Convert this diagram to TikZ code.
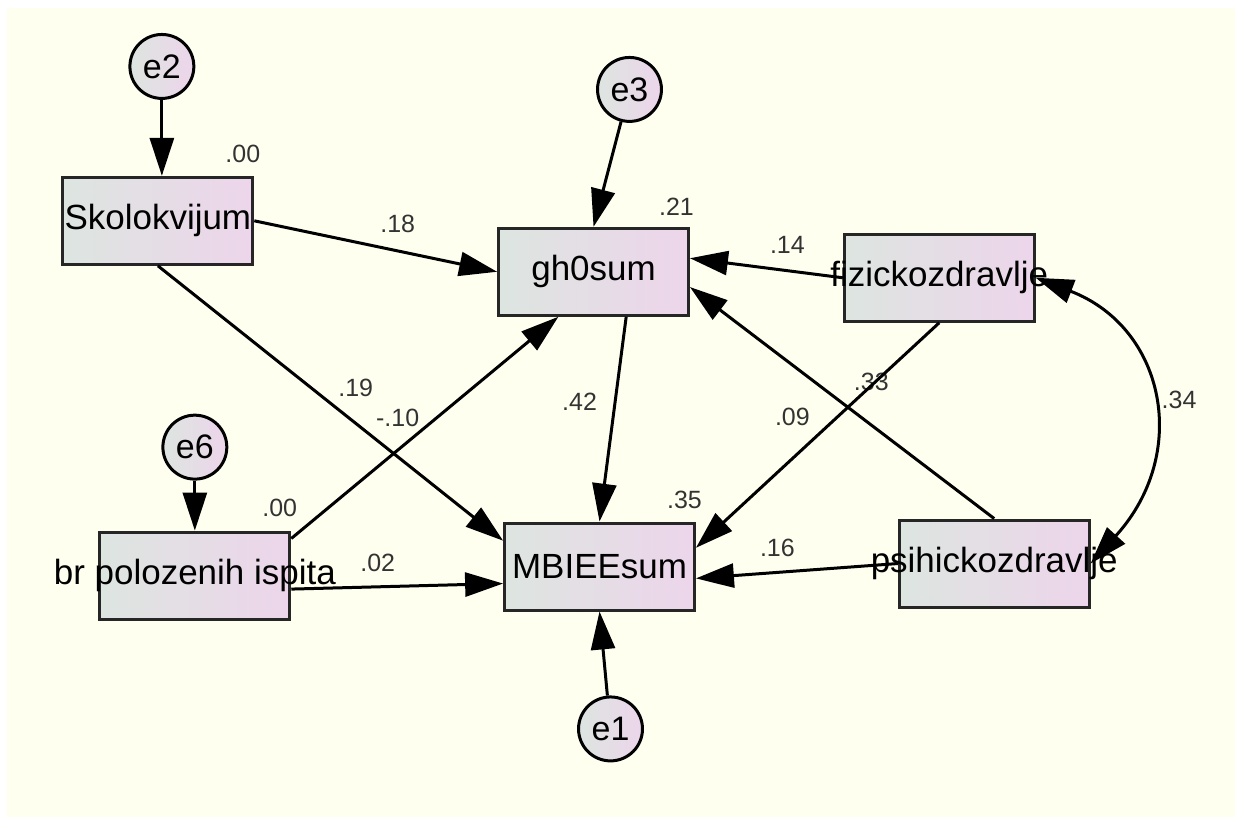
\documentclass[tikz,border=0pt]{standalone}
\usepackage{fontspec}
\setmainfont{Liberation Sans}
\usetikzlibrary{positioning}
\usetikzlibrary{arrows.meta}
\definecolor{paper}{RGB}{255,255,240}
\definecolor{shadeleft}{RGB}{221,229,224}
\definecolor{shaderight}{RGB}{237,213,235}

\begin{document}
\begin{tikzpicture}[
x=0.5pt, y=-0.5pt,
varnode/.style={rectangle, draw=black!85, line width=1.5pt, left color=shadeleft, right color=shaderight, minimum width=95pt, minimum height=43.5pt, inner sep=0pt, font=\fontsize{17.5}{20}\selectfont},
errnode/.style={circle, draw=black, line width=1.5pt, left color=shadeleft, right color=shaderight, minimum size=32pt, inner sep=0pt, font=\fontsize{17}{20}\selectfont},
coefnode/.style={inner sep=0pt, text=black!80, font=\fontsize{12.5}{14}\selectfont},
pathline/.style={line width=1.5pt, -{Triangle[length=19pt, width=12pt]}},
covline/.style={line width=1.5pt, {Triangle[length=19pt, width=12pt]}-{Triangle[length=19pt, width=12pt]}},
]

% Paper with a thin white margin
\fill[white] (0,0) rectangle (1235,817);
\fill[paper] (7,8) rectangle (1236,818);

% Observed variables
\node[varnode]   (skolokvijum)   at (158,221)   {\makebox[0pt]{Skolokvijum}};
\node[varnode]   (gh0sum)        at (594,272)   {\makebox[0pt]{gh0sum}};
\node[varnode]   (fizicko)       at (940,278)   {\makebox[0pt]{fizickozdravlje}};
\node[varnode]   (brispita)      at (195,576)   {\makebox[0pt]{br polozenih ispita}};
\node[varnode]   (mbieesum)      at (600,567)   {\makebox[0pt]{MBIEEsum}};
\node[varnode]   (psihicko)      at (995,564)   {\makebox[0pt]{psihickozdravlje}};

% Error terms
\node[errnode]   (e2)   [above=38pt of skolokvijum, xshift=2pt]   {e2};
\node[errnode]   (e3)   [above=52pt of gh0sum, xshift=18pt]       {e3};
\node[errnode]   (e6)   [above=25pt of brispita]                  {e6};
\node[errnode]   (e1)   [below=42pt of mbieesum, xshift=5.5pt]    {e1};

% Squared multiple correlations
\node[coefnode]  (r2skol)   at (243,154)   {.00};
\node[coefnode]  (r2gh)     at (677,207)   {.21};
\node[coefnode]  (r2br)     at (280,508)   {.00};
\node[coefnode]  (r2mbi)    at (685,500)   {.35};

% Path coefficients
\node[coefnode]  (c18)   at (398,224)    {.18};
\node[coefnode]  (c14)   at (788,245)    {.14};
\node[coefnode]  (c19)   at (356,388)    {.19};
\node[coefnode]  (c10)   at (398,418)    {-.10};
\node[coefnode]  (c42)   at (580,402)    {.42};
\node[coefnode]  (c33)   at (872,382)    {.33};
\node[coefnode]  (c09)   at (793,417)    {.09};
\node[coefnode]  (c34)   at (1180,400)   {.34};
\node[coefnode]  (c02)   at (378,563)    {.02};
\node[coefnode]  (c16)   at (778,548)    {.16};

\draw[pathline] (e2) -- (e2 |- skolokvijum.north);
\draw[pathline] (e3) -- (gh0sum.north);
\draw[pathline] (e6) -- (e6 |- brispita.north);
\draw[pathline] (e1) -- (mbieesum.south);
\draw[pathline] (skolokvijum.east) -- (gh0sum.west);
\draw[pathline] (skolokvijum.south) -- (mbieesum.165);
\draw[pathline] (brispita.21) -- (gh0sum.232);
\draw[pathline] (brispita.-8) -- (mbieesum.190);
\draw[pathline] (gh0sum.-54) -- (mbieesum.north);
\draw[pathline] (fizicko.west) -- (gh0sum.8);
\draw[pathline] (fizicko.south) -- (mbieesum.11);
\draw[pathline] (psihicko.north) -- (gh0sum.-9);
\draw[pathline] (psihicko.west) -- (mbieesum.-7);
\draw[covline] (fizicko.east) .. controls +(130,50) and +(100,-110) .. (psihicko.east);
\end{tikzpicture}
\end{document}
